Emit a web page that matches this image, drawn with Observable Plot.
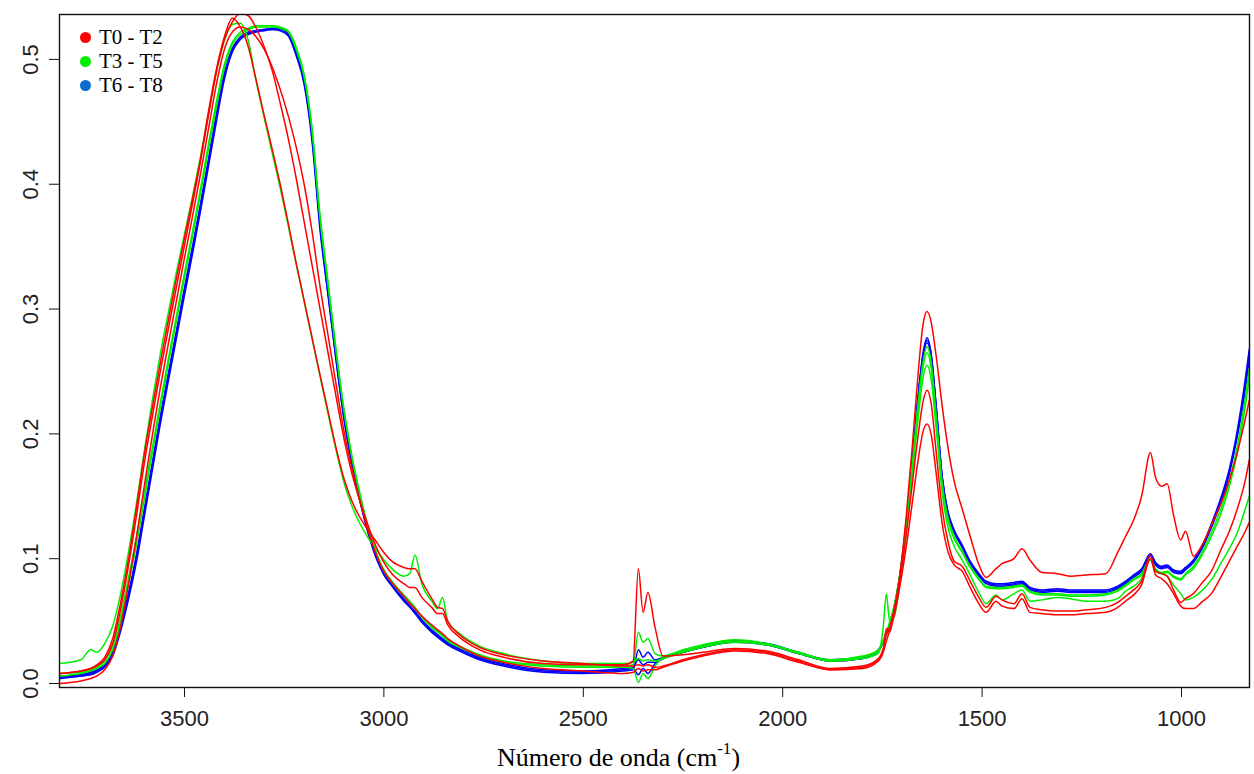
<!DOCTYPE html>
<html>
<head>
<meta charset="utf-8">
<script src="https://cdn.jsdelivr.net/npm/d3@7"></script>
<script src="https://cdn.jsdelivr.net/npm/@observablehq/plot@0.6"></script>
<style>
  html, body { margin: 0; padding: 0; background: #fff; }
  #wrap { position: relative; width: 1254px; height: 774px; overflow: hidden; }
  #legend { position: absolute; left: 80px; top: 25px; font-family: "Liberation Serif", "Times New Roman", serif; font-size: 21px; color: #000; }
  #legend .row { display: flex; align-items: center; height: 24px; }
  #legend .dot { width: 11px; height: 11px; border-radius: 50%; margin-right: 8px; }
  #xtitle { position: absolute; left: 497px; top: 745px; font-family: "Liberation Serif", "Times New Roman", serif; font-size: 26px; line-height: 26px; color: #000; white-space: nowrap; }
  #xtitle sup { font-size: 17px; line-height: 0; position: relative; top: -2px; }
</style>
</head>
<body>
<div id="wrap">
  <div id="chart"></div>
  <div id="legend"></div>
  <div id="xtitle">Número de onda (cm<sup>-1</sup>)</div>
</div>
<script>
// ---- Data (absorbance) ----
const wavenumbers = [
  3812,3760,3735,3720,3700,3680,3660,3640,3620,3600,
  3580,3560,3540,3520,3500,3480,3460,3440,3420,3400,
  3380,3360,3340,3320,3300,3280,3260,3240,3220,3200,
  3180,3160,3140,3120,3100,3080,3060,3040,3020,3000,
  2980,2950,2935,2922,2905,2880,2865,2853,2840,2810,
  2760,2700,2600,2500,2400,2375,2362,2350,2338,2320,
  2300,2250,2200,2120,2040,1960,1880,1800,1760,1748,
  1740,1732,1720,1705,1690,1675,1660,1648,1638,1628,
  1615,1600,1585,1570,1550,1530,1510,1490,1465,1450,
  1420,1400,1380,1350,1310,1280,1240,1190,1160,1140,
  1120,1100,1078,1065,1050,1036,1020,1002,990,970,
  950,925,900,880,860,840,830
];

// T0 - T2 (red)
const T0 = [
  0.008,0.010,0.012,0.014,0.019,0.032,0.060,0.095,0.135,0.178,
  0.215,0.251,0.285,0.318,0.351,0.384,0.418,0.455,0.490,0.516,
  0.530,0.537,0.535,0.525,0.510,0.491,0.465,0.437,0.405,0.370,
  0.335,0.300,0.265,0.230,0.196,0.168,0.146,0.127,0.110,0.097,
  0.088,0.080,0.077,0.077,0.069,0.061,0.056,0.056,0.047,0.037,
  0.027,0.021,0.016,0.015,0.015,0.018,0.092,0.057,0.073,0.045,
  0.022,0.023,0.025,0.028,0.026,0.019,0.012,0.014,0.020,0.028,
  0.040,0.045,0.060,0.090,0.135,0.190,0.250,0.288,0.298,0.290,
  0.262,0.222,0.188,0.162,0.140,0.118,0.097,0.085,0.092,0.096,
  0.100,0.108,0.099,0.089,0.088,0.086,0.087,0.088,0.105,0.118,
  0.131,0.150,0.185,0.165,0.158,0.160,0.135,0.115,0.122,0.102,
  0.110,0.127,0.145,0.163,0.185,0.212,0.227
];
const T1 = [
  0.008,0.010,0.012,0.015,0.021,0.036,0.065,0.100,0.142,0.185,
  0.222,0.258,0.292,0.325,0.357,0.388,0.420,0.458,0.492,0.518,
  0.533,0.526,0.510,0.483,0.455,0.428,0.400,0.369,0.337,0.307,
  0.277,0.247,0.218,0.189,0.164,0.146,0.133,0.123,0.114,0.105,
  0.098,0.093,0.092,0.092,0.082,0.068,0.061,0.060,0.050,0.039,
  0.029,0.023,0.018,0.016,0.014,0.014,0.015,0.014,0.015,0.013,
  0.014,0.019,0.023,0.027,0.025,0.018,0.011,0.013,0.019,0.026,
  0.044,0.041,0.058,0.085,0.120,0.160,0.200,0.226,0.235,0.225,
  0.185,0.140,0.113,0.098,0.094,0.082,0.070,0.061,0.070,0.067,
  0.064,0.072,0.061,0.059,0.058,0.058,0.059,0.061,0.065,0.070,
  0.075,0.082,0.103,0.090,0.088,0.086,0.075,0.065,0.068,0.072,
  0.080,0.090,0.108,0.122,0.140,0.163,0.179
];
const T2 = [
  0.000,0.002,0.004,0.006,0.011,0.022,0.046,0.080,0.118,0.160,
  0.200,0.238,0.273,0.307,0.341,0.374,0.408,0.444,0.480,0.508,
  0.522,0.526,0.524,0.518,0.508,0.494,0.476,0.455,0.430,0.400,
  0.362,0.318,0.279,0.240,0.202,0.172,0.146,0.123,0.104,0.090,
  0.081,0.070,0.064,0.060,0.054,0.047,0.043,0.040,0.036,0.030,
  0.022,0.017,0.012,0.010,0.008,0.009,0.012,0.010,0.011,0.011,
  0.013,0.018,0.022,0.026,0.024,0.017,0.011,0.012,0.018,0.025,
  0.034,0.042,0.055,0.080,0.110,0.145,0.180,0.202,0.208,0.200,
  0.168,0.128,0.105,0.095,0.090,0.077,0.065,0.057,0.066,0.062,
  0.060,0.068,0.057,0.056,0.055,0.055,0.056,0.057,0.061,0.066,
  0.071,0.079,0.100,0.087,0.084,0.080,0.072,0.062,0.060,0.060,
  0.065,0.072,0.086,0.098,0.110,0.122,0.129
];
// T3 - T5 (green)
const T3 = [
  0.008,0.009,0.011,0.013,0.018,0.030,0.054,0.085,0.118,0.155,
  0.190,0.226,0.261,0.295,0.329,0.362,0.396,0.432,0.466,0.496,
  0.514,0.522,0.525,0.527,0.527,0.527,0.526,0.523,0.510,0.488,
  0.445,0.375,0.322,0.268,0.220,0.182,0.152,0.126,0.106,0.091,
  0.082,0.071,0.066,0.061,0.054,0.046,0.042,0.039,0.035,0.030,
  0.023,0.018,0.015,0.014,0.014,0.015,0.041,0.033,0.036,0.024,
  0.022,0.027,0.031,0.035,0.032,0.025,0.019,0.022,0.027,0.035,
  0.041,0.049,0.063,0.090,0.128,0.176,0.226,0.258,0.270,0.258,
  0.214,0.160,0.132,0.118,0.106,0.094,0.085,0.078,0.077,0.077,
  0.078,0.079,0.074,0.072,0.072,0.071,0.071,0.072,0.075,0.079,
  0.084,0.088,0.100,0.092,0.089,0.090,0.086,0.084,0.088,0.094,
  0.104,0.121,0.141,0.162,0.190,0.228,0.252
];
const T4 = [
  0.006,0.008,0.010,0.012,0.016,0.027,0.050,0.080,0.112,0.149,
  0.186,0.222,0.257,0.291,0.325,0.358,0.392,0.428,0.462,0.493,
  0.512,0.520,0.524,0.526,0.526,0.526,0.525,0.522,0.508,0.486,
  0.442,0.372,0.319,0.266,0.218,0.181,0.151,0.125,0.105,0.090,
  0.081,0.070,0.065,0.060,0.053,0.045,0.041,0.038,0.034,0.029,
  0.022,0.017,0.014,0.013,0.013,0.012,0.001,0.008,0.004,0.014,
  0.021,0.026,0.030,0.034,0.031,0.025,0.018,0.021,0.026,0.034,
  0.040,0.048,0.062,0.089,0.127,0.174,0.222,0.254,0.265,0.253,
  0.210,0.158,0.130,0.116,0.105,0.093,0.084,0.077,0.076,0.076,
  0.077,0.078,0.073,0.071,0.071,0.070,0.070,0.071,0.074,0.078,
  0.083,0.087,0.099,0.091,0.088,0.089,0.085,0.083,0.087,0.092,
  0.102,0.118,0.137,0.158,0.185,0.222,0.245
];
const T5 = [
  0.016,0.019,0.027,0.025,0.032,0.046,0.072,0.106,0.145,0.188,
  0.228,0.265,0.298,0.330,0.360,0.390,0.422,0.456,0.490,0.515,
  0.528,0.529,0.515,0.482,0.453,0.425,0.397,0.367,0.336,0.306,
  0.276,0.246,0.216,0.187,0.161,0.142,0.128,0.117,0.108,0.099,
  0.092,0.086,0.088,0.103,0.080,0.066,0.060,0.069,0.050,0.040,
  0.030,0.024,0.018,0.016,0.016,0.017,0.020,0.018,0.019,0.018,
  0.020,0.025,0.029,0.033,0.031,0.024,0.018,0.020,0.024,0.045,
  0.072,0.050,0.054,0.084,0.122,0.168,0.214,0.245,0.255,0.244,
  0.204,0.153,0.124,0.110,0.099,0.087,0.074,0.064,0.071,0.067,
  0.072,0.075,0.066,0.067,0.069,0.068,0.066,0.066,0.068,0.074,
  0.078,0.084,0.100,0.090,0.088,0.086,0.079,0.072,0.067,0.069,
  0.074,0.083,0.097,0.108,0.121,0.140,0.150
];
// T6 - T8 (blue)
const T6 = [
  0.004,0.006,0.007,0.009,0.013,0.022,0.042,0.068,0.098,0.135,
  0.172,0.209,0.243,0.277,0.311,0.344,0.378,0.414,0.450,0.484,
  0.506,0.516,0.520,0.522,0.523,0.524,0.524,0.520,0.505,0.482,
  0.437,0.366,0.312,0.260,0.212,0.176,0.146,0.121,0.101,0.087,
  0.078,0.066,0.061,0.056,0.049,0.041,0.037,0.034,0.031,0.026,
  0.019,0.014,0.009,0.008,0.010,0.011,0.027,0.021,0.025,0.019,
  0.021,0.025,0.029,0.034,0.031,0.024,0.018,0.020,0.026,0.034,
  0.040,0.048,0.062,0.090,0.130,0.180,0.232,0.265,0.277,0.265,
  0.222,0.165,0.136,0.122,0.110,0.097,0.088,0.081,0.079,0.079,
  0.080,0.081,0.076,0.074,0.075,0.074,0.074,0.074,0.077,0.081,
  0.086,0.091,0.103,0.096,0.093,0.094,0.090,0.089,0.092,0.098,
  0.108,0.127,0.148,0.170,0.200,0.240,0.265
];
const T7 = [
  0.005,0.006,0.008,0.010,0.014,0.024,0.045,0.071,0.102,0.139,
  0.176,0.213,0.247,0.281,0.315,0.348,0.382,0.418,0.454,0.487,
  0.508,0.517,0.521,0.523,0.524,0.525,0.525,0.521,0.507,0.485,
  0.440,0.369,0.315,0.263,0.215,0.178,0.148,0.123,0.103,0.088,
  0.079,0.067,0.062,0.057,0.050,0.042,0.038,0.035,0.032,0.027,
  0.020,0.015,0.010,0.009,0.011,0.012,0.007,0.012,0.008,0.016,
  0.020,0.025,0.029,0.033,0.031,0.024,0.018,0.020,0.026,0.033,
  0.039,0.047,0.061,0.088,0.128,0.178,0.230,0.262,0.273,0.262,
  0.220,0.164,0.135,0.121,0.109,0.096,0.087,0.080,0.078,0.078,
  0.079,0.080,0.075,0.073,0.074,0.073,0.073,0.073,0.076,0.080,
  0.085,0.090,0.102,0.095,0.092,0.093,0.089,0.088,0.091,0.097,
  0.107,0.125,0.146,0.168,0.198,0.236,0.261
];
const T8 = [
  0.006,0.007,0.009,0.011,0.015,0.025,0.046,0.073,0.104,0.141,
  0.178,0.215,0.249,0.283,0.317,0.350,0.384,0.420,0.456,0.489,
  0.509,0.518,0.522,0.523,0.524,0.524,0.523,0.519,0.503,0.480,
  0.434,0.363,0.311,0.259,0.212,0.176,0.147,0.122,0.102,0.088,
  0.079,0.068,0.062,0.058,0.051,0.043,0.039,0.036,0.033,0.028,
  0.021,0.016,0.011,0.010,0.012,0.013,0.019,0.015,0.017,0.017,
  0.020,0.025,0.030,0.034,0.032,0.025,0.019,0.021,0.027,0.034,
  0.040,0.048,0.062,0.089,0.129,0.179,0.231,0.263,0.275,0.264,
  0.221,0.166,0.137,0.123,0.111,0.098,0.089,0.082,0.080,0.080,
  0.081,0.082,0.077,0.075,0.076,0.075,0.075,0.075,0.078,0.082,
  0.087,0.092,0.104,0.097,0.094,0.095,0.091,0.090,0.093,0.099,
  0.109,0.128,0.150,0.172,0.203,0.244,0.268
];

const groups = ["T0 - T2", "T3 - T5", "T6 - T8"];
const lineColors = ["#ff0000", "#00ee00", "#0000ff"];
const legendColors = ["#ff0000", "#00ee00", "#0a6ccb"];
const xTicks = [3500, 3000, 2500, 2000, 1500, 1000];
const yTicks = [0.0, 0.1, 0.2, 0.3, 0.4, 0.5];

const series = [
  {id: "T6", group: groups[2], values: T6},
  {id: "T7", group: groups[2], values: T7},
  {id: "T8", group: groups[2], values: T8},
  {id: "T3", group: groups[1], values: T3},
  {id: "T4", group: groups[1], values: T4},
  {id: "T5", group: groups[1], values: T5},
  {id: "T0", group: groups[0], values: T0},
  {id: "T1", group: groups[0], values: T1},
  {id: "T2", group: groups[0], values: T2}
];
for (const s of series) {
  if (s.values.length !== wavenumbers.length) throw new Error(s.id + " length " + s.values.length + " != " + wavenumbers.length);
}
const rows = series.flatMap(s => s.values.map((v, i) => ({wn: wavenumbers[i], a: v, id: s.id, group: s.group})));

const lineMarks = [groups[2], groups[1], groups[0]].map(g =>
  Plot.line(rows.filter(r => r.group === g), {
    x: "wn", y: "a", z: "id", stroke: "group", strokeWidth: 1.5,
    curve: "monotone-x", clip: true
  })
);

const chart = Plot.plot({
  width: 1254,
  height: 744,
  marginLeft: 59,
  marginRight: 5,
  marginTop: 14,
  marginBottom: 57,
  style: {fontFamily: "'Liberation Sans', Arial, sans-serif", fontSize: "22px", color: "#222", background: "#fff"},
  x: {domain: [3813.4, 829.5], label: null},
  y: {domain: [-0.0032, 0.536], label: null},
  color: {domain: groups, range: lineColors},
  marks: [
    ...lineMarks,
    Plot.frame({stroke: "#111", strokeWidth: 1.4}),
    Plot.axisX({ticks: xTicks, tickSize: 10, tickPadding: 13, tickFormat: d3.format("d"), label: null, stroke: "#111", fontSize: 22}),
    Plot.axisY({ticks: yTicks, tickSize: 10, tickPadding: 12, tickRotate: -90, tickFormat: d3.format(".1f"), label: null, stroke: "#111", fontSize: 22})
  ]
});
document.getElementById("chart").appendChild(chart);

const legend = document.getElementById("legend");
groups.forEach((g, i) => {
  const row = document.createElement("div");
  row.className = "row";
  const dot = document.createElement("span");
  dot.className = "dot";
  dot.style.background = legendColors[i];
  const label = document.createElement("span");
  label.textContent = g;
  row.appendChild(dot);
  row.appendChild(label);
  legend.appendChild(row);
});
</script>
</body>
</html>
